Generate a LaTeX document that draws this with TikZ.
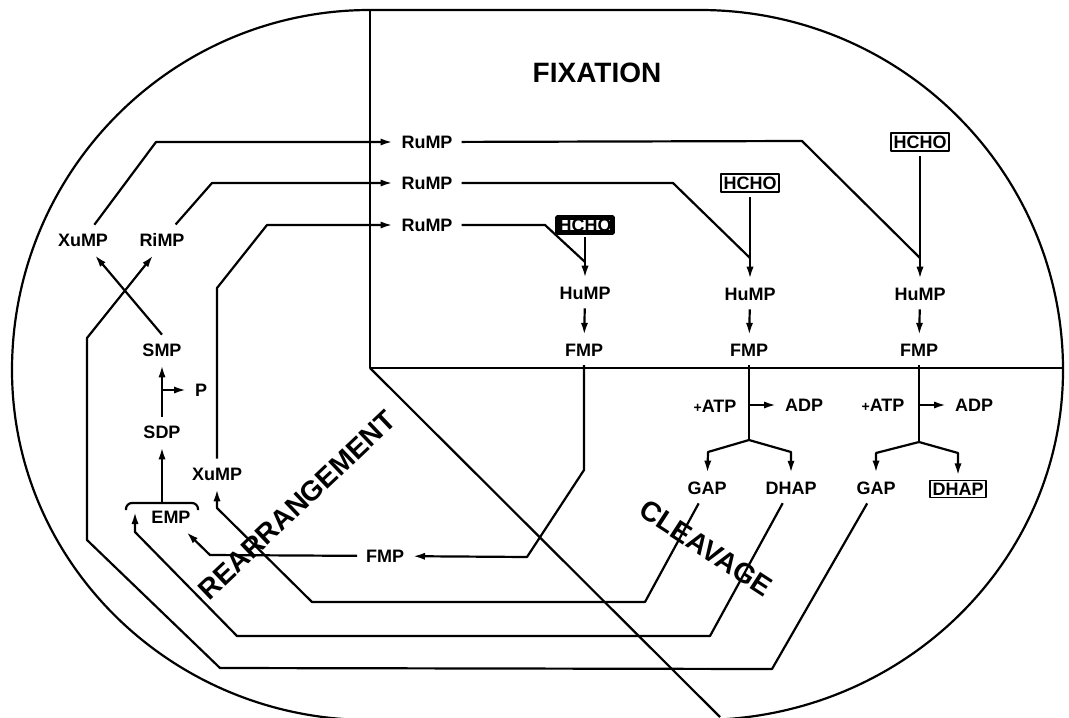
\documentclass[tikz,border=0pt]{standalone}
\usepackage{fontspec}
\setmainfont{Liberation Sans}
\usetikzlibrary{arrows.meta}
\tikzset{
  >={Latex[length=6pt,width=3.6pt]},
  met/.style={font=\bfseries\fontsize{9}{10}\selectfont, inner sep=2.5pt, outer sep=2pt},
  boxed/.style={met, draw, line width=0.9pt, inner sep=1.2pt, outer sep=2.5pt},
  inked/.style={boxed, line width=2.4pt, inner sep=0.4pt},
  region/.style={font=\bfseries\fontsize{14}{16}\selectfont},
}

\begin{document}
\begin{tikzpicture}[x=0.5pt, y=-0.5pt, line width=1.1pt, line join=round]
    \useasboundingbox (0,0) rectangle (1069,717);
    % cell outline and the three regions
    \draw (370,10) -- (700,10)
      arc[start angle=90, end angle=0, x radius=181.5pt, y radius=180pt]
      arc[start angle=0, end angle=-90, x radius=181.5pt, y radius=175pt]
      -- (370,720)
      arc[start angle=270, end angle=180, x radius=179pt, y radius=175pt]
      arc[start angle=180, end angle=90, x radius=179pt, y radius=180pt] -- cycle;
    \draw (370,10) -- (370,368) -- (1063,368);
    \draw (370,368) -- (720,717);

    \node[region] (fix) at (597,73) {FIXATION};
    \node[region, rotate=43.5] (rearr) at (297,505) {REARRANGEMENT};
    \node[region, rotate=-33] (cleav) at (706,548) {CLEAVAGE};

    % fixation
    \node[met] (RuMPa) at (427,142) {RuMP};
    \node[met] (RuMPb) at (427,183) {RuMP};
    \node[met] (RuMPc) at (427,225) {RuMP};
    \node[inked] (HCHOa) at (585,225) {HCHO};
    \node[boxed] (HCHOb) at (750,183) {HCHO};
    \node[boxed] (HCHOc) at (920,142) {HCHO};
    \node[met] (HuMPa) at (585,293) {HuMP};
    \node[met] (HuMPb) at (750,294) {HuMP};
    \node[met] (HuMPc) at (920,294) {HuMP};
    \node[met] (FMPa) at (584,350) {FMP};
    \node[met] (FMPb) at (749,350) {FMP};
    \node[met] (FMPc) at (919,350) {FMP};

    % cleavage
    \node[met] (ATPa) at (715,406) {{\scriptsize+}ATP};
    \node[met] (ADPa) at (804,405) {ADP};
    \node[met] (ATPb) at (883,405) {{\scriptsize+}ATP};
    \node[met] (ADPb) at (974,405) {ADP};
    \node[met] (GAPa) at (707,488) {GAP};
    \node[met] (DHAPa) at (791,488) {DHAP};
    \node[met] (GAPb) at (876,488) {GAP};
    \node[boxed] (DHAPb) at (958,489) {DHAP};
    \coordinate (spa) at (749,440);
    \coordinate (spb) at (919,442);

    % rearrangement
    \node[met] (XuMPa) at (83,240) {XuMP};
    \node[met] (RiMP) at (162,240) {RiMP};
    \node[met] (SMP) at (162,350) {SMP};
    \node[met] (P) at (201,390) {P};
    \node[met] (SDP) at (162,432) {SDP};
    \node[met] (XuMPb) at (217,474) {XuMP};
    \node[met] (EMP) at (171,517) {EMP};
    \node[met] (FMPd) at (385,556) {FMP};
    \coordinate (brc) at (162,503);
    \coordinate (empin) at (135,512);

    \draw[rounded corners=3pt] (126,510) -- (126,503) -- (198,503) -- (198,510);

    \draw[->] (HCHOa) -- (HuMPa);
    \draw[->] (HCHOb) -- (HuMPb);
    \draw[->] (HCHOc) -- (HuMPc);
    \draw (RuMPc) -- (545,225) -- (585,262);
    \draw (RuMPb) -- (673,183) -- (750,258);
    \draw (RuMPa) -- (802,141) -- (920,258);
    \draw[->] (HuMPa) -- (FMPa);
    \draw[->] (HuMPb) -- (FMPb);
    \draw[->] (HuMPc) -- (FMPc);

    \draw (FMPb) -- (spa);
    \draw (FMPc) -- (spb);
    \draw[->] (FMPb |- ADPa) -- (ADPa);
    \draw[->] (FMPc |- ADPb) -- (ADPb);
    \draw[->] (spa) -- (708,452) -- (GAPa);
    \draw[->] (spa) -- (791,452) -- (DHAPa);
    \draw[->] (spb) -- (876,453) -- (GAPb);
    \draw[->] (spb) -- (958,453) -- (DHAPb);

    \draw[->] (XuMPa) -- (156,142) -- (RuMPa);
    \draw[->] (RiMP) -- (212,183) -- (RuMPb);
    \draw[->] (XuMPb) -- (217,288) -- (267,225) -- (RuMPc);
    \draw[->] (SMP.north) -- ([xshift=6pt]XuMPa.south);
    \draw[->] (SDP) -- (SMP);
    \draw[->] (SDP.north |- P) -- (P);
    \draw[->] (brc) -- (SDP);

    \draw[->] (FMPa) -- (584,470) -- (527,557) -- (FMPd);
    \draw[->] (FMPd) -- (210,555) -- (EMP);
    \draw[->] (GAPa) -- (645,602) -- (312,602) -- (217,508) -- (XuMPb);
    \draw[->] (DHAPa) -- (710,636) -- (237,636) -- (135,532) -- (empin);
    \draw[->] (GAPb) -- (772,669) -- (220,668) -- (87,540) -- (87,338)
      -- ([xshift=-4.5pt]RiMP.south);
  \end{tikzpicture}
\end{document}
